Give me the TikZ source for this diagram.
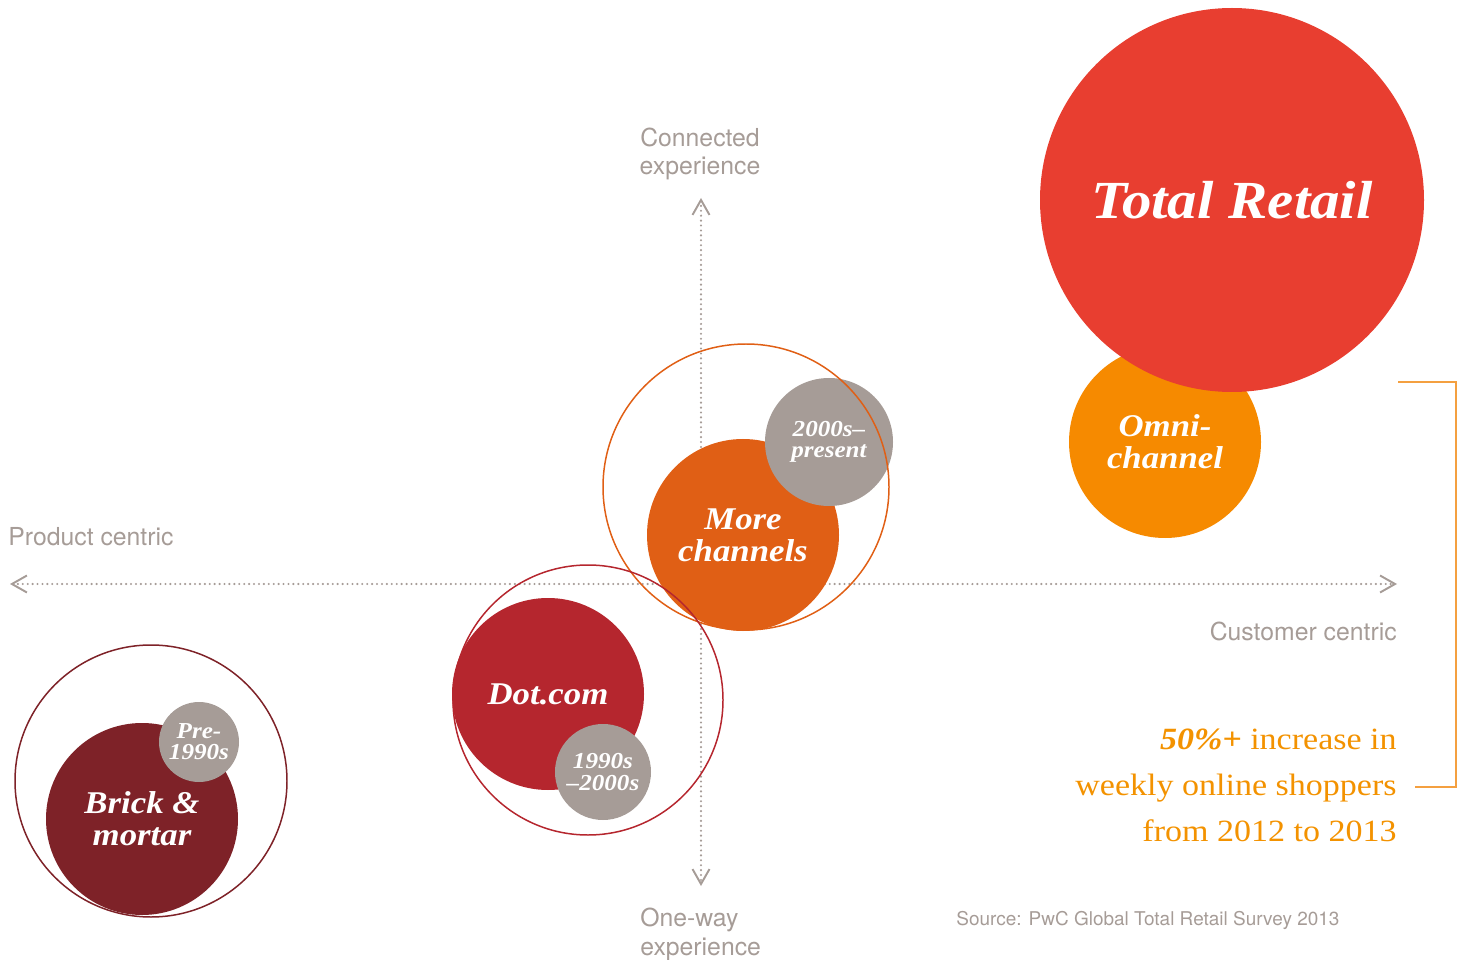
\documentclass[tikz,border=0pt]{standalone}
\usepackage{fontspec}
\usetikzlibrary{arrows.meta}
\newfontfamily\pwcserif[FakeStretch=1.1]{Liberation Serif}
\newfontfamily\pwcsans{TeX Gyre Heros}
\definecolor{retailred}{HTML}{E83E30}
\definecolor{omniorange}{HTML}{F68A00}
\definecolor{moreorange}{HTML}{E05F15}
\definecolor{dotred}{HTML}{B5262E}
\definecolor{brickred}{HTML}{7E2228}
\definecolor{eragrey}{HTML}{A69C97}
\definecolor{noteorange}{HTML}{F39200}
\definecolor{bracketorange}{HTML}{F4A040}
\tikzset{
  disc/.style={circle, inner sep=0pt, minimum size=#1*0.4mm, text=white, align=center},
  bigtxt/.style={font=\pwcserif\bfseries\itshape\fontsize{18}{18}\selectfont},
  smalltxt/.style={font=\pwcserif\bfseries\itshape\fontsize{13}{12}\selectfont},
  ring/.style={circle, draw=#1, line width=0.85pt, inner sep=0pt},
  axis/.style={eragrey, line width=1.35pt, line cap=round, dash pattern=on 0pt off 2.8pt,
    {Straight Barb[length=3mm, width=3.4mm, line width=1.1pt]}-{Straight Barb[length=3mm, width=3.4mm, line width=1.1pt]}},
  axislabel/.style={text=eragrey, font=\pwcsans\fontsize{14.1}{16.4}\selectfont, inner sep=0pt}
}
\begin{document}
\begin{tikzpicture}[x=0.2mm,y=-0.2mm]
\useasboundingbox (0,0) rectangle (1465,960);
\coordinate (west) at (10,584);
\coordinate (east) at (1397,584);
\coordinate (north) at (701,198);
\coordinate (south) at (701,886);
\draw[axis] (west) -- (east);
\draw[axis] (north) -- (south);
\node[axislabel, align=center, anchor=base] (connected) at (700,175) {Connected\\experience};
\node[axislabel, align=left, anchor=base west] (oneway) at (640,955) {One-way\\experience};
\node[axislabel, anchor=base west] (product) at (8,546) {Product centric};
\node[axislabel, anchor=base east] (customer) at (1397,640) {Customer centric};
\node[text=eragrey, font=\pwcsans\fontsize{10.8}{12}\selectfont, inner sep=0pt, anchor=base west] (source) at (956,925) {Source: PwC Global Total Retail Survey 2013};
\node[disc=96, fill=omniorange, bigtxt] (omni) at (1165,442) {Omni-\\channel};
\node[disc=192, fill=retailred, font=\pwcserif\bfseries\itshape\fontsize{30.5}{30}\selectfont] (total) at (1232,200) {Total Retail};
\node[disc=96, fill=moreorange, bigtxt] (more) at (743,535) {More\\channels};
\node[disc=64, fill=eragrey, smalltxt] (present) at (829,442) {2000s–\\present};
\node[disc=96, fill=dotred, bigtxt] (dotcom) at (548,694) {Dot.com};
\node[disc=48, fill=eragrey, smalltxt] (nineties) at (603,772) {1990s\\–2000s};
\node[disc=96, fill=brickred, bigtxt] (brick) at (142,819) {Brick \&\\mortar};
\node[disc=40, fill=eragrey, smalltxt] (pre) at (199,742) {Pre-\\1990s};
\node[ring=moreorange, minimum size=143*0.4mm] (moreRing) at (746,487) {};
\node[ring=dotred, minimum size=135*0.4mm] (dotRing) at (588,700) {};
\node[ring=brickred, minimum size=136*0.4mm] (brickRing) at (151,781) {};
\node[text=noteorange, align=right, anchor=base east, inner sep=0pt,
  font=\pwcserif\fontsize{17.6}{26}\selectfont] (note) at (1397,841)
  {\textbf{\textit{50\%+}} increase in\\weekly online shoppers\\from 2012 to 2013};
\coordinate (bracketTop) at (1398,382);
\coordinate (bracketBottom) at (1415,787);
\draw[bracketorange, line width=0.6pt] (bracketTop) -- (1456,382) |- (bracketBottom);
\end{tikzpicture}
\end{document}
